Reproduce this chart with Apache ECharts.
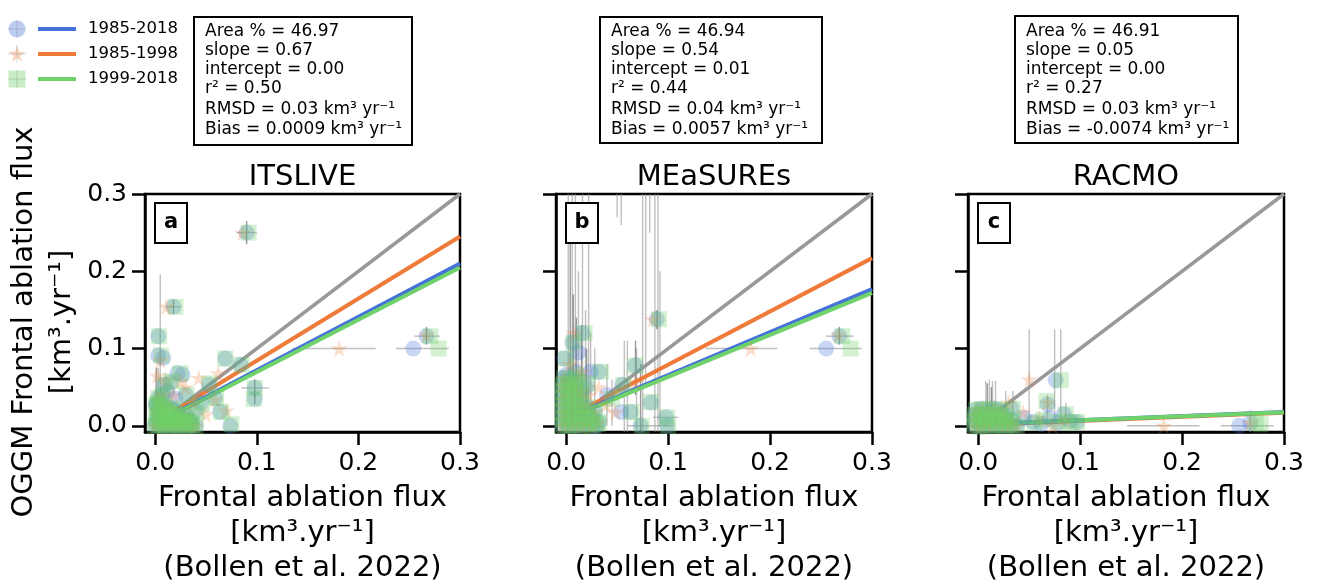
<!DOCTYPE html>
<html><head><meta charset="utf-8">
<script src="https://cdn.jsdelivr.net/npm/echarts@6/dist/echarts.min.js"></script>
<style>html,body{margin:0;padding:0;background:#fff}#c{width:1317px;height:587px}</style>
</head><body><div id="c"></div>
<script>
// ---------------- data ----------------
const panelTitles = ['ITSLIVE', 'MEaSUREs', 'RACMO'];
const panelLetters = ['a', 'b', 'c'];
const periods = ['1985-2018', '1985-1998', '1999-2018'];
const tickValues = [0, 0.1, 0.2, 0.3];
const xAxisName = 'Frontal ablation flux\n[km³.yr⁻¹]\n(Bollen et al. 2022)';
const yAxisName = 'OGGM Frontal ablation flux\n[km³.yr⁻¹]';

const statsITS = ['Area % = 46.97', 'slope = 0.67', 'intercept = 0.00', 'r² = 0.50', 'RMSD = 0.03 km³ yr⁻¹', 'Bias = 0.0009 km³ yr⁻¹'];
const statsMEA = ['Area % = 46.94', 'slope = 0.54', 'intercept = 0.01', 'r² = 0.44', 'RMSD = 0.04 km³ yr⁻¹', 'Bias = 0.0057 km³ yr⁻¹'];
const statsRAC = ['Area % = 46.91', 'slope = 0.05', 'intercept = 0.00', 'r² = 0.27', 'RMSD = 0.03 km³ yr⁻¹', 'Bias = -0.0074 km³ yr⁻¹'];

const oneToOne = [[0, 0], [0.3, 0.3]];

// ITSLIVE  [x = Bollen, y = OGGM]
const itsAll = [[0.090,0.250],[0.018,0.154],[0.267,0.116],[0.254,0.100],[0.003,0.116],[0.003,0.091],[0.008,0.088],[0.069,0.087],[0.084,0.079],[0.022,0.068],[0.027,0.066],[0.053,0.053],[0.098,0.049],[0.098,0.035],[0.059,0.036],[0.030,0.040],[0.009,0.053],[0.015,0.056],[0.064,0.018],[0.074,0.000],[0.040,0.019],[0.035,0.006],[0.001,0.028],[0.020,0.035],[0.045,0.030],[0.012,0.045]];
const its8598 = [[0.086,0.250],[0.011,0.154],[0.267,0.118],[0.181,0.100],[0.005,0.085],[0.002,0.065],[0.043,0.062],[0.062,0.068],[0.010,0.060],[0.030,0.050],[0.050,0.015],[0.059,0.034],[0.025,0.058],[0.018,0.040],[0.038,0.030],[0.070,0.020]];
const its9918 = [[0.092,0.250],[0.020,0.154],[0.271,0.116],[0.279,0.100],[0.004,0.116],[0.006,0.091],[0.069,0.087],[0.085,0.079],[0.025,0.068],[0.053,0.055],[0.098,0.049],[0.097,0.035],[0.060,0.036],[0.031,0.040],[0.010,0.053],[0.065,0.018],[0.075,0.002],[0.036,0.005],[0.041,0.019],[0.002,0.028],[0.016,0.058],[0.046,0.028]];
const itsCluster = [[0.000,0.000],[0.004,0.001],[0.008,0.000],[0.012,0.002],[0.016,0.000],[0.020,0.001],[0.024,0.000],[0.028,0.002],[0.032,0.000],[0.036,0.001],[0.040,0.000],
  [0.001,0.006],[0.005,0.008],[0.009,0.005],[0.013,0.009],[0.017,0.006],[0.021,0.008],[0.025,0.005],[0.029,0.007],[0.033,0.006],
  [0.002,0.013],[0.006,0.015],[0.010,0.012],[0.014,0.016],[0.018,0.013],[0.022,0.015],[0.026,0.012],[0.031,0.013],
  [0.003,0.020],[0.007,0.022],[0.011,0.019],[0.015,0.023],[0.019,0.020],
  [0.001,0.027],[0.005,0.030],[0.009,0.026],[0.003,0.036],[0.007,0.040]];
const itsFits = [[[0, 0.003], [0.3, 0.210]], [[0, 0.004], [0.3, 0.245]], [[0, 0.002], [0.3, 0.205]]];
const itsErrV = [[0.005,0.006,0.196],[0.003,0.020,0.075]];
const itsErrVDark = [[0.001,0.020,0.075],[0.098,0.038,0.060],[0.090,0.235,0.265],[0.267,0.105,0.128],[0.018,0.145,0.163],[0.098,0.028,0.042]];
const itsErrH = [[0.100,0.135,0.217],[0.100,0.237,0.289],[0.049,0.085,0.112],[0.116,0.255,0.280],[0.250,0.080,0.100],[0.154,0.010,0.026]];

// MEaSUREs
const meaAll = [[0.089,0.138],[0.268,0.116],[0.255,0.100],[0.016,0.120],[0.006,0.108],[-0.002,0.087],[0.009,0.070],[0.000,0.066],[0.068,0.078],[0.032,0.070],[0.024,0.070],[0.055,0.053],[0.083,0.030],[0.063,0.018],[0.054,0.018],[0.098,0.011],[0.073,0.000],[0.099,0.000],[0.030,0.000],[0.012,0.095],[0.020,0.050],[0.040,0.040]];
const mea8598 = [[0.085,0.138],[0.267,0.118],[0.181,0.100],[0.008,0.120],[0.003,0.080],[0.068,0.057],[0.032,0.050],[0.039,0.027],[0.048,0.018],[0.015,0.070],[0.022,0.040],[0.010,0.045]];
const mea9918 = [[0.091,0.138],[0.271,0.116],[0.279,0.100],[0.018,0.120],[0.007,0.108],[0.000,0.087],[0.068,0.078],[0.034,0.070],[0.056,0.053],[0.083,0.031],[0.064,0.018],[0.099,0.011],[0.074,0.000],[0.100,0.000],[0.031,0.002],[0.010,0.066],[0.021,0.055],[0.045,0.035]];
const meaCluster = [[-0.004,0.000],[0.002,0.000],[0.008,0.001],[0.014,0.000],[0.020,0.002],[0.026,0.000],
  [-0.003,0.008],[0.003,0.010],[0.009,0.007],[0.015,0.009],[0.021,0.008],[0.026,0.010],
  [-0.004,0.017],[0.002,0.019],[0.008,0.016],[0.014,0.018],[0.020,0.016],[0.028,0.018],
  [-0.003,0.026],[0.003,0.028],[0.009,0.025],[0.015,0.027],[0.021,0.024],
  [-0.004,0.035],[0.002,0.037],[0.008,0.034],[0.014,0.036],
  [-0.003,0.044],[0.003,0.046],[0.009,0.043],[0.015,0.045],
  [-0.004,0.053],[0.002,0.055],[0.008,0.052],[-0.002,0.062],[0.005,0.060],[0.012,0.058],[0.032,0.005]];
const meaFits = [[[0, 0.010], [0.3, 0.177]], [[0, 0.010], [0.3, 0.217]], [[0, 0.009], [0.3, 0.172]]];
const meaErrV = [[0.002,0.000,0.350],[0.006,0.000,0.350],[0.009,0.000,0.350],[0.012,0.000,0.200],[0.016,0.020,0.350],[0.019,0.000,0.150],[0.022,0.000,0.350],[0.024,0.000,0.120],[0.028,0.000,0.100],[0.050,0.270,0.350],[0.054,0.260,0.350],[0.057,-0.010,0.110],[0.060,-0.010,0.110],[0.069,-0.010,0.100],[0.075,-0.010,0.350],[0.078,0.050,0.350],[0.082,0.250,0.350],[0.087,-0.010,0.350],[0.090,-0.010,0.350],[0.092,0.000,0.200],[0.040,0.000,0.080],[0.045,0.000,0.060]];
const meaErrVDark = [[0.004,0.000,0.250],[0.007,0.000,0.170],[0.010,0.000,0.140],[0.015,0.000,0.130],[0.020,0.000,0.100],[0.068,0.040,0.110],[0.073,-0.010,0.080],[0.089,0.125,0.150],[0.268,0.105,0.128]];
const meaErrH = [[0.100,0.137,0.207],[0.100,0.239,0.290],[0.116,0.255,0.282],[0.066,-0.006,0.020],[0.000,0.060,0.105],[0.011,0.085,0.110]];

// RACMO
const racAll = [[0.076,0.059],[0.267,0.004],[0.256,0.000],[0.068,0.028],[0.084,0.015],[0.033,0.022],[0.054,0.005],[0.062,0.002],[0.097,0.005],[0.070,0.010],[0.090,0.006],[0.078,0.004],[0.045,0.010]];
const rac8598 = [[0.050,0.060],[0.267,0.004],[0.182,0.000],[0.068,0.030],[0.044,0.018],[0.073,0.000],[0.030,0.030],[0.060,0.010],[0.085,0.008]];
const rac9918 = [[0.081,0.059],[0.272,0.004],[0.277,0.002],[0.067,0.032],[0.086,0.015],[0.034,0.022],[0.097,0.005],[0.055,0.004],[0.064,0.008],[0.079,0.005],[0.091,0.004]];
const racCluster = [[-0.004,0.000],[0.002,-0.001],[0.008,0.001],[0.014,0.000],[0.020,0.001],[0.026,0.000],[0.032,0.001],[0.038,0.000],
  [-0.003,0.007],[0.003,0.008],[0.009,0.006],[0.015,0.008],[0.021,0.007],[0.027,0.006],[0.033,0.008],
  [-0.004,0.014],[0.002,0.015],[0.008,0.013],[0.014,0.015],[0.020,0.014],[0.026,0.013],
  [-0.002,0.021],[0.004,0.022],[0.010,0.020],[0.016,0.022],[0.022,0.020]];
const racFits = [[[0, 0.002], [0.3, 0.018]], [[0, 0.001], [0.3, 0.017]], [[0, 0.002], [0.3, 0.0175]]];
const racErrV = [[0.050,0.006,0.125],[0.075,0.005,0.125],[0.081,0.005,0.125],[0.0075,0.005,0.058],[0.011,0.005,0.060],[0.014,0.005,0.058],[0.017,0.005,0.058],[0.027,0.005,0.045],[0.034,0.005,0.045],[0.068,0.005,0.040],[0.086,0.000,0.030],[0.267,-0.008,0.020]];
const racErrVDark = [[0.009,0.005,0.055],[0.013,0.005,0.050]];
const racErrH = [[0.000,0.146,0.217],[0.000,0.238,0.290]];

// ---------------- build ----------------
const FONT = 'DejaVu Sans';
const colors = ['#4472d9', '#ef7b3b', '#6fd26a'];
const markerFill = ['rgba(68,114,217,0.36)', 'rgba(239,123,59,0.32)', 'rgba(111,210,106,0.38)'];
const STAR = 'path://M50,0 L61,35 L98,35 L68,57 L79,91 L50,70 L21,91 L32,57 L2,35 L39,35 Z';
const starPts = [[50,0],[61,35],[98,35],[68,57],[79,91],[50,70],[21,91],[32,57],[2,35],[39,35]];
const symbols = ['circle', STAR, 'rect'];
const symbolSizes = [16, 17, 16];

const panels = [
  {pts: [itsAll, its8598, its9918], cluster: itsCluster, fits: itsFits, ev: itsErrV, evd: itsErrVDark, eh: itsErrH, stats: statsITS},
  {pts: [meaAll, mea8598, mea9918], cluster: meaCluster, fits: meaFits, ev: meaErrV, evd: meaErrVDark, eh: meaErrH, stats: statsMEA},
  {pts: [racAll, rac8598, rac9918], cluster: racCluster, fits: racFits, ev: racErrV, evd: racErrVDark, eh: racErrH, stats: statsRAC}
];
const gridLefts = [145, 556, 968];
const gridW = [315, 316, 316];
const gridTop = 194, gridH = 244;
const boxes = [[194, 17, 218, 128], [600, 17, 222, 126], [1015, 16, 223, 127]];
const statLineY = [32, 51, 70, 89, 110, 130];

function vErr(color) {
  return function (params, api) {
    const a = api.coord([api.value(0), api.value(1)]);
    const b = api.coord([api.value(0), api.value(2)]);
    return {type: 'line', shape: {x1: a[0], y1: a[1], x2: b[0], y2: b[1]}, style: {stroke: color, lineWidth: 1.4}};
  };
}
function hErr(color) {
  return function (params, api) {
    const a = api.coord([api.value(1), api.value(0)]);
    const b = api.coord([api.value(2), api.value(0)]);
    return {type: 'line', shape: {x1: a[0], y1: a[1], x2: b[0], y2: b[1]}, style: {stroke: color, lineWidth: 1.4}};
  };
}

const grids = [], xAxes = [], yAxes = [], series = [], graphics = [];
panels.forEach((p, i) => {
  grids.push({left: gridLefts[i], top: gridTop, width: gridW[i], height: gridH, show: true, borderColor: '#000', borderWidth: 2.5, backgroundColor: 'transparent'});
  xAxes.push({
    type: 'value', gridIndex: i, min: -0.01, max: 0.3,
    axisLine: {show: true, onZero: false, lineStyle: {color: '#000', width: 2.5}},
    axisTick: {show: true, length: 13, customValues: tickValues, lineStyle: {color: '#000', width: 2.5}},
    axisLabel: {show: true, customValues: tickValues, formatter: v => Number(v).toFixed(1), fontSize: 25, color: '#000', fontFamily: FONT, margin: 19},
    splitLine: {show: false},
    name: xAxisName, nameLocation: 'middle', nameGap: 49,
    nameTextStyle: {fontSize: 29, lineHeight: 35, color: '#000', fontFamily: FONT, align: 'center'}
  });
  yAxes.push({
    type: 'value', gridIndex: i, min: -0.008, max: 0.3,
    axisLine: {show: true, onZero: false, lineStyle: {color: '#000', width: 2.5}},
    axisTick: {show: true, length: 13, customValues: tickValues, lineStyle: {color: '#000', width: 2.5}},
    axisLabel: {show: i === 0, customValues: tickValues, formatter: v => Number(v).toFixed(1), fontSize: 25, color: '#000', fontFamily: FONT, margin: 18},
    splitLine: {show: false}
  });
  series.push({type: 'custom', xAxisIndex: i, yAxisIndex: i, clip: true, z: 1, silent: true, data: p.ev, encode: {x: 0, y: [1, 2]}, renderItem: vErr('rgba(150,150,150,0.6)')});
  series.push({type: 'custom', xAxisIndex: i, yAxisIndex: i, clip: true, z: 1, silent: true, data: p.evd, encode: {x: 0, y: [1, 2]}, renderItem: vErr('rgba(70,70,70,0.55)')});
  series.push({type: 'custom', xAxisIndex: i, yAxisIndex: i, clip: true, z: 1, silent: true, data: p.eh, encode: {x: [1, 2], y: 0}, renderItem: hErr('rgba(150,150,150,0.6)')});
  series.push({type: 'line', xAxisIndex: i, yAxisIndex: i, data: oneToOne, showSymbol: false, z: 2, silent: true, lineStyle: {color: '#999999', width: 3.6}});
  [1, 0, 2].forEach(k => {
    series.push({type: 'line', xAxisIndex: i, yAxisIndex: i, data: p.fits[k], showSymbol: false, z: 2, silent: true, lineStyle: {color: colors[k], width: 4}});
  });
  [0, 1, 2].forEach(k => {
    series.push({
      type: 'scatter', xAxisIndex: i, yAxisIndex: i, z: 3 + k, silent: true,
      data: p.pts[k].concat(p.cluster), symbol: symbols[k], symbolSize: symbolSizes[k],
      itemStyle: {color: markerFill[k]}
    });
  });
  const cx = gridLefts[i] + gridW[i] / 2;
  graphics.push({type: 'text', x: cx, y: 177, style: {text: panelTitles[i], font: '29px "' + FONT + '"', fill: '#000', textAlign: 'center', textVerticalAlign: 'middle'}});
  graphics.push({type: 'rect', shape: {x: gridLefts[i] + 10, y: gridTop + 9, width: 32, height: 40}, style: {fill: '#fff', stroke: '#000', lineWidth: 2}, z: 100});
  graphics.push({type: 'text', x: gridLefts[i] + 26, y: gridTop + 29, z: 101, style: {text: panelLetters[i], font: 'bold 21px "' + FONT + '"', fill: '#000', textAlign: 'center', textVerticalAlign: 'middle'}});
  const b = boxes[i];
  graphics.push({type: 'rect', shape: {x: b[0], y: b[1], width: b[2], height: b[3]}, style: {fill: '#fff', stroke: '#000', lineWidth: 2}});
  p.stats.forEach((s, j) => {
    graphics.push({type: 'text', x: b[0] + 11, y: statLineY[j], style: {text: s, font: '17px "' + FONT + '"', fill: '#000', textAlign: 'left', textVerticalAlign: 'middle'}});
  });
});

// legend
const legendY = [29, 54, 79];
periods.forEach((name, k) => {
  const y = legendY[k];
  if (k === 0) graphics.push({type: 'circle', shape: {cx: 17, cy: y, r: 8.5}, style: {fill: markerFill[0]}});
  if (k === 1) graphics.push({type: 'polygon', shape: {points: starPts.map(q => [8 + q[0] * 0.18, y - 8.5 + q[1] * 0.18])}, style: {fill: markerFill[1]}});
  if (k === 2) graphics.push({type: 'rect', shape: {x: 8.5, y: y - 8.5, width: 17, height: 17}, style: {fill: markerFill[2]}});
  graphics.push({type: 'line', shape: {x1: 8, y1: y, x2: 26, y2: y}, style: {stroke: 'rgba(120,120,120,0.3)', lineWidth: 1}});
  graphics.push({type: 'line', shape: {x1: 17, y1: y - 9, x2: 17, y2: y + 9}, style: {stroke: 'rgba(120,120,120,0.3)', lineWidth: 1}});
  graphics.push({type: 'line', shape: {x1: 38, y1: y, x2: 76, y2: y}, style: {stroke: colors[k], lineWidth: 4}});
  graphics.push({type: 'text', x: 88, y: y, style: {text: name, font: '16.5px "' + FONT + '"', fill: '#000', textAlign: 'left', textVerticalAlign: 'middle'}});
});

graphics.push({type: 'text', x: 43, y: 322, rotation: Math.PI / 2, style: {text: yAxisName, font: '29px "' + FONT + '"', lineHeight: 38, fill: '#000', textAlign: 'center', textVerticalAlign: 'middle'}});

const chart = echarts.init(document.getElementById('c'), null, {renderer: 'canvas'});
chart.setOption({
  animation: false,
  backgroundColor: '#fff',
  grid: grids, xAxis: xAxes, yAxis: yAxes, series: series,
  graphic: {elements: graphics}
});
</script></body></html>
